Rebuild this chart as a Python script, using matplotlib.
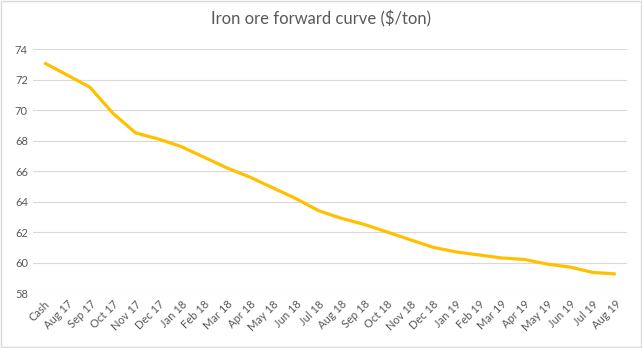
import matplotlib.pyplot as plt
from matplotlib.patches import Rectangle

months = ["Cash", "Aug 17", "Sep 17", "Oct 17", "Nov 17", "Dec 17", "Jan 18",
          "Feb 18", "Mar 18", "Apr 18", "May 18", "Jun 18", "Jul 18", "Aug 18",
          "Sep 18", "Oct 18", "Nov 18", "Dec 18", "Jan 19", "Feb 19", "Mar 19",
          "Apr 19", "May 19", "Jun 19", "Jul 19", "Aug 19"]
prices = [73.1, 72.3, 71.5, 69.8, 68.5, 68.1, 67.6, 66.9, 66.2, 65.6, 64.9,
          64.2, 63.4, 62.9, 62.5, 62.0, 61.5, 61.0, 60.7, 60.5, 60.3, 60.2,
          59.9, 59.7, 59.35, 59.25]
y_ticks = [58, 60, 62, 64, 66, 68, 70, 72, 74]

plt.rcParams['font.family'] = ['Lato', 'DejaVu Sans']

fig = plt.figure(figsize=(6.42, 3.48), dpi=100)
ax = fig.add_axes([0.051, 0.158, 0.926, 0.701])

x = list(range(len(months)))
ax.plot(x, prices, color='#FFC000', linewidth=2.3, solid_capstyle='butt')

ax.set_xlim(-0.5, len(months) - 0.5)
ax.set_ylim(58, 74)
ax.set_yticks(y_ticks)
ax.set_xticks(x)
ax.set_xticklabels(months, rotation=45, ha='right', rotation_mode='anchor')
ax.tick_params(axis='both', length=0, colors='#595959', labelsize=8)
ax.tick_params(axis='x', pad=4)
ax.grid(axis='y', color='#D9D9D9', linewidth=0.8)
ax.set_axisbelow(True)
for s in ax.spines.values():
    s.set_visible(False)

fig.text(0.5, 0.945, "Iron ore forward curve ($/ton)", ha='center', va='center',
         fontsize=12, color='#595959')

fig.patches.append(Rectangle((0.002, 0.002), 0.996, 0.996, transform=fig.transFigure,
                             fill=False, edgecolor='#D9D9D9', linewidth=1))

fig.savefig("out.png", dpi=100)
